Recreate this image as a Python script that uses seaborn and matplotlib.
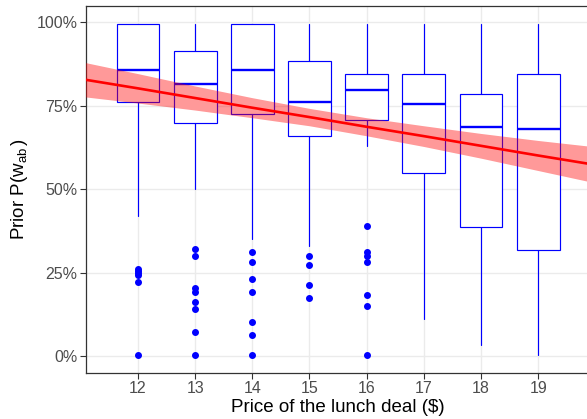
import matplotlib
matplotlib.use("Agg")
import matplotlib.pyplot as plt
from matplotlib.ticker import PercentFormatter
import seaborn as sns

# box summaries per price
prices = [12, 13, 14, 15, 16, 17, 18, 19]
whis_hi = [0.995, 0.995, 0.995, 0.995, 0.995, 0.995, 0.995, 0.995]
q3 = [0.995, 0.914, 0.995, 0.883, 0.846, 0.846, 0.786, 0.846]
median = [0.856, 0.816, 0.856, 0.761, 0.796, 0.756, 0.687, 0.679]
q1 = [0.761, 0.698, 0.726, 0.660, 0.707, 0.548, 0.387, 0.319]
whis_lo = [0.421, 0.500, 0.351, 0.331, 0.630, 0.113, 0.034, 0.004]
outliers = [
    [0.262, 0.256, 0.248, 0.242, 0.222, 0.004],
    [0.321, 0.301, 0.204, 0.192, 0.163, 0.143, 0.074, 0.004],
    [0.311, 0.282, 0.232, 0.192, 0.104, 0.064, 0.004],
    [0.301, 0.272, 0.212, 0.173],
    [0.391, 0.311, 0.301, 0.282, 0.182, 0.152, 0.004],
    [],
    [],
    [],
]

# linear fit and its confidence band
fit_x = [11, 12, 13, 14, 15, 16, 17, 18, 19, 20]
fit_y = [0.830, 0.802, 0.773, 0.744, 0.716, 0.687, 0.659, 0.630, 0.601, 0.573]
fit_lo = [0.778, 0.758, 0.737, 0.714, 0.690, 0.660, 0.628, 0.593, 0.556, 0.519]
fit_hi = [0.882, 0.846, 0.809, 0.774, 0.742, 0.714, 0.690, 0.667, 0.646, 0.627]

sns.set_theme(style="whitegrid", rc={
    "axes.edgecolor": "#333333",
    "axes.linewidth": 0.9,
    "grid.color": "#EBEBEB",
    "grid.linewidth": 1.0,
    "xtick.bottom": True,
    "ytick.left": True,
})
plt.rcParams["font.family"] = ["Liberation Sans", "DejaVu Sans"]
plt.rcParams["mathtext.fontset"] = "custom"
plt.rcParams["mathtext.rm"] = "Liberation Sans"
plt.rcParams["mathtext.it"] = "Liberation Sans:italic"

fig = plt.figure(figsize=(5.87, 4.19), dpi=100)
ax = fig.add_axes([86 / 587, 46 / 419, 503 / 587, 367.5 / 419])

stats = []
for i, p in enumerate(prices):
    stats.append({"label": str(p), "med": median[i], "q1": q1[i], "q3": q3[i],
                  "whislo": whis_lo[i], "whishi": whis_hi[i], "fliers": outliers[i]})

ax.bxp(stats, positions=prices, widths=0.75, showcaps=False, patch_artist=True,
       manage_ticks=False,
       boxprops=dict(facecolor="white", edgecolor="blue", linewidth=0.85),
       whiskerprops=dict(color="blue", linewidth=0.85),
       medianprops=dict(color="blue", linewidth=1.7),
       flierprops=dict(marker="o", markerfacecolor="blue", markeredgecolor="blue",
                       markersize=4))

ax.fill_between(fit_x, fit_lo, fit_hi, color="red", alpha=0.4, lw=0, zorder=3)
sns.lineplot(x=fit_x, y=fit_y, color="red", lw=1.9, ax=ax, zorder=4)

ax.set_xlim(11.09, 19.89)
ax.set_ylim(-0.05, 1.05)
ax.set_xticks(prices)
ax.set_yticks([0, 0.25, 0.5, 0.75, 1.0])
ax.yaxis.set_major_formatter(PercentFormatter(1.0, decimals=0))
ax.tick_params(length=4, width=0.8, color="#333333", labelcolor="#4D4D4D",
               labelsize=11.5, pad=2)
ax.set_xlabel("Price of the lunch deal ($)", fontsize=13.5, color="black", labelpad=2)
ax.set_ylabel(r"Prior P$\mathrm{(w_{ab}\,)}$", fontsize=13.5,
              color="black", labelpad=5)

fig.savefig("out.png", dpi=100)
